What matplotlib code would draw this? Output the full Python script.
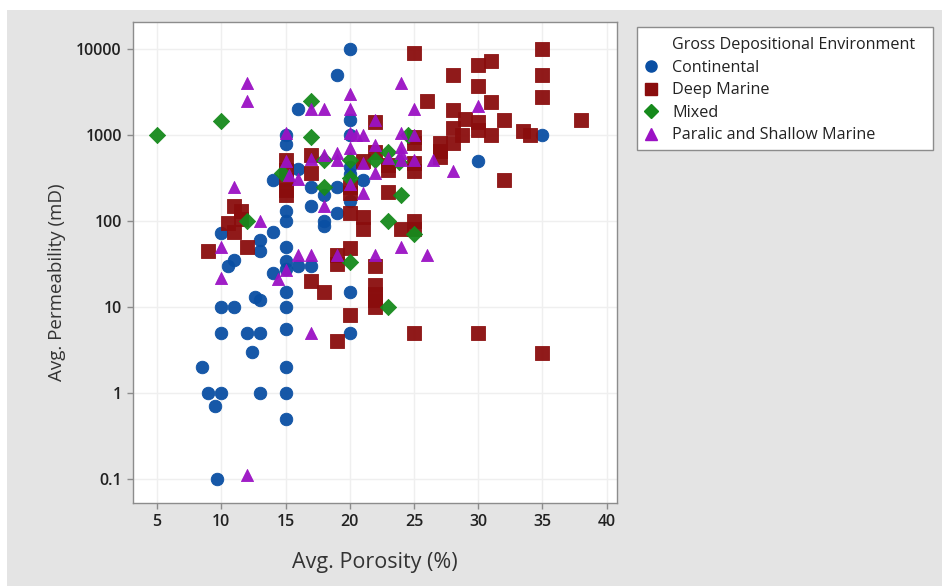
import matplotlib
matplotlib.use("Agg")
import matplotlib.pyplot as plt
from matplotlib.patches import Rectangle
from matplotlib.lines import Line2D

plt.rcParams['font.family'] = ['Open Sans', 'DejaVu Sans']

# Average porosity (%) and permeability (mD) by depositional environment
continental_por = [20, 19, 16, 20, 15, 20, 15, 35, 30, 16, 20, 20, 14, 21, 17, 19, 18, 20,
                   17, 15, 19, 15, 18, 18, 10, 14, 13, 13, 15, 15, 15, 10.5, 11, 16, 17, 14,
                   15, 20, 12.6, 13, 10, 11, 15, 10, 12, 13, 15, 20, 12.4, 8.5, 15, 9, 10,
                   13, 15, 9.5, 15, 9.7]
continental_perm = [10000, 5000, 2000, 1500, 1000, 1000, 780, 1000, 500, 400, 430, 350, 300,
                    300, 250, 250, 200, 170, 150, 130, 125, 100, 100, 88, 73, 75, 60, 45, 50,
                    34, 28, 30, 35, 30, 30, 25, 15, 15, 13, 12, 10, 10, 10, 5, 5, 5, 5.5, 5,
                    3, 2, 2, 1, 1, 1, 1, 0.7, 0.5, 0.1]

deep_por = [9, 10.5, 11, 11, 11.5, 11.5, 12, 15, 15, 15, 15, 15, 17, 17, 17, 18, 19, 19, 19,
            20, 20, 20, 20, 20, 21, 21, 21, 22, 22, 22, 22, 22, 22, 22, 23, 23, 23, 24,
            25, 25, 25, 25, 25, 25, 25, 25, 26, 27, 27, 27, 28, 28, 28, 28, 28.7, 29,
            30, 30, 30, 30, 30, 31, 31, 31, 32, 32, 33.5, 34, 35, 35, 35, 35, 38]
deep_perm = [45, 95, 150, 75, 130, 105, 50, 510, 390, 300, 230, 200, 590, 360, 20, 15, 40, 32, 4,
             250, 210, 125, 48, 8, 500, 110, 80, 1400, 640, 30, 18, 14, 12, 10, 450, 390, 220, 80,
             9000, 950, 800, 470, 380, 100, 80, 5, 2500, 800, 650, 550, 5000, 1950, 1200, 800,
             1000, 1550, 6500, 3700, 1400, 1150, 5, 7200, 2400, 1000, 1500, 300, 1100, 1000,
             10000, 5000, 2800, 2.9, 1500]

mixed_por = [5, 10, 17, 17, 12, 14.7, 18, 18, 20, 20, 20, 22, 23, 23.8, 24.5, 24, 23, 25, 23]
mixed_perm = [1000, 1450, 2500, 950, 100, 360, 510, 250, 510, 320, 33, 510, 640, 490, 1000,
              200, 100, 70, 10]

paralic_por = [12, 12, 17, 18, 20, 20, 15, 20, 20.5, 21, 20, 19, 19, 18, 17, 15, 15.3, 16, 11,
               20, 21, 18, 13, 10, 10, 16, 17, 19, 15, 14.4, 17, 12, 24, 25, 30, 22, 24, 25,
               24, 24, 22, 23, 24, 25, 21, 22, 26.5, 28, 24, 26, 22]
paralic_perm = [4000, 2500, 2000, 2000, 3000, 2000, 1050, 1050, 1000, 1000, 700, 620, 510, 590,
                520, 500, 340, 305, 250, 270, 210, 150, 100, 50, 22, 40, 40, 40, 27, 21, 5,
                0.11, 4000, 2000, 2200, 1500, 1050, 1000, 730, 610, 770, 540, 510, 510, 470,
                360, 510, 380, 50, 40, 40]

x_ticks = [5, 10, 15, 20, 25, 30, 35, 40]
y_ticks = [0.1, 1, 10, 100, 1000, 10000]
y_tick_labels = ['0.1', '1', '10', '100', '1000', '10000']

groups = [
    ("Continental", continental_por, continental_perm, 'o', '#0a4fa3', 82),
    ("Deep Marine", deep_por, deep_perm, 's', '#8a0d0d', 96),
    ("Mixed", mixed_por, mixed_perm, 'D', '#168a1c', 68),
    ("Paralic and Shallow Marine", paralic_por, paralic_perm, '^', '#9b12c4', 76),
]

W, H = 942, 586
fig = plt.figure(figsize=(W / 100, H / 100), dpi=100, facecolor='white')
fig.patches.append(Rectangle((7 / W, 0), 1, 1 - 10 / H, transform=fig.transFigure,
                             facecolor='#e4e4e4', edgecolor='none', zorder=-10))

ax = fig.add_axes([133 / W, 83 / H, 484 / W, 481 / H])
ax.set_facecolor('white')

for name, xs, ys, mk, col, size in groups:
    ax.scatter(xs, ys, marker=mk, s=size, color=col, edgecolors=col, linewidths=0.6,
               alpha=0.95, zorder=3, label=name)

ax.set_yscale('log')
ax.set_xlim(3.13, 40.8)
ax.set_ylim(10 ** -1.279, 10 ** 4.314)
ax.set_xticks(x_ticks)
ax.set_xticklabels([str(t) for t in x_ticks])
ax.set_yticks(y_ticks)
ax.set_yticklabels(y_tick_labels)
ax.minorticks_off()
ax.grid(True, color='#efefef', linewidth=1.0, zorder=0)
ax.set_axisbelow(True)

for sp in ax.spines.values():
    sp.set_color('#8c8c8c')
    sp.set_linewidth(1.0)
ax.tick_params(axis='both', direction='out', length=4, width=1, color='#8c8c8c',
               labelsize=11.5, labelcolor='#222222', pad=4)
for lab in ax.get_xticklabels() + ax.get_yticklabels():
    lab.set_fontweight('semibold')

ax.set_xlabel('Avg. Porosity (%)', fontsize=15.5, color='#333333', labelpad=16)
ax.set_ylabel('Avg. Permeability (mD)', fontsize=13.5, color='#333333')
ax.yaxis.set_label_coords(-0.138, 0.46)

# Legend panel: white box with grey outline, heading drawn as an unmarked first row
fig.patches.append(Rectangle((637 / W, 1 - 150 / H), 296 / W, 123 / H,
                             transform=fig.transFigure, facecolor='white',
                             edgecolor='#8c8c8c', linewidth=1.0, zorder=1))
handles = [Line2D([], [], linestyle='none', marker=None)]
labels = ['Gross Depositional Environment']
for name, xs, ys, mk, col, size in groups:
    handles.append(Line2D([], [], linestyle='none', marker=mk,
                          markersize=8 if mk != 'D' else 7,
                          color=col, markeredgecolor=col))
    labels.append(name)

leg = fig.legend(handles, labels, loc='upper left',
                 bbox_to_anchor=(637 / W, 1 - 31 / H), frameon=False, fontsize=11.6,
                 handlelength=0.9, handletextpad=0.9, labelspacing=0.4, borderpad=0.4,
                 borderaxespad=0)
leg.set_zorder(2)
for t in leg.get_texts():
    t.set_color('#222222')

fig.savefig('out.png', dpi=100, facecolor=fig.get_facecolor())
